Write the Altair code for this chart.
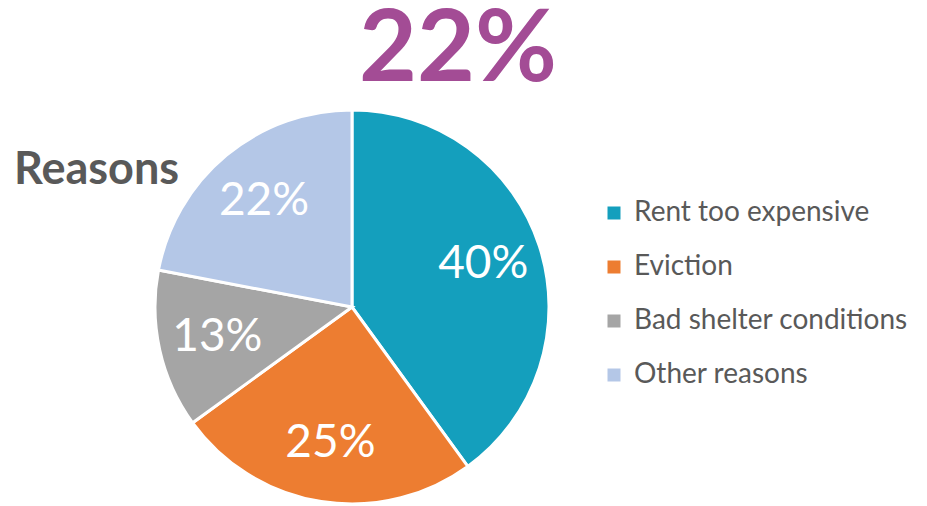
import altair as alt
import pandas as pd

categories = ["Rent too expensive", "Eviction", "Bad shelter conditions", "Other reasons"]
values = [40, 25, 13, 22]
labels = ["40%", "25%", "13%", "22%"]
colors = ["#149FBD", "#ED7D31", "#A5A5A5", "#B4C7E7"]

df = pd.DataFrame({"reason": categories, "value": values, "label": labels,
                   "order": list(range(len(categories)))})

FONT = "Lato"
cx, cy = 344, 299

base = alt.Chart(df).encode(
    theta=alt.Theta("value:Q", stack=True),
    order=alt.Order("order:Q"),
)

arcs = base.mark_arc(radius=197, stroke="white", strokeWidth=3).encode(
    color=alt.Color("reason:N", sort=categories,
                    scale=alt.Scale(domain=categories, range=colors),
                    legend=alt.Legend(title=None, orient="none", legendX=592, legendY=191,
                                      symbolType="square", symbolSize=169,
                                      symbolStrokeWidth=0,
                                      labelFont=FONT, labelFontSize=28, labelColor="#595959",
                                      rowPadding=26, labelOffset=6, labelLimit=400)),
    x=alt.value(cx), y=alt.value(cy),
)

texts = base.mark_text(radius=138, fontSize=46, font=FONT, color="white").encode(
    text="label:N", x=alt.value(cx), y=alt.value(cy),
)

title = alt.Chart(pd.DataFrame({"t": ["22%"]})).mark_text(
    font=FONT, fontSize=100, fontWeight="bold", color="#A34C95", align="center", baseline="middle"
).encode(text="t:N", x=alt.value(450), y=alt.value(43))

reasons = alt.Chart(pd.DataFrame({"t": ["Reasons"]})).mark_text(
    font=FONT, fontSize=45, fontWeight="bold", color="#595959", align="left", baseline="middle"
).encode(text="t:N", x=alt.value(6), y=alt.value(162))

chart = alt.layer(arcs, texts, title, reasons).properties(
    width=911, height=498, padding=0, autosize=alt.AutoSizeParams(type="none")
).configure_view(stroke=None)

chart.save("out.html", embed_options={"renderer": "svg", "actions": False})
